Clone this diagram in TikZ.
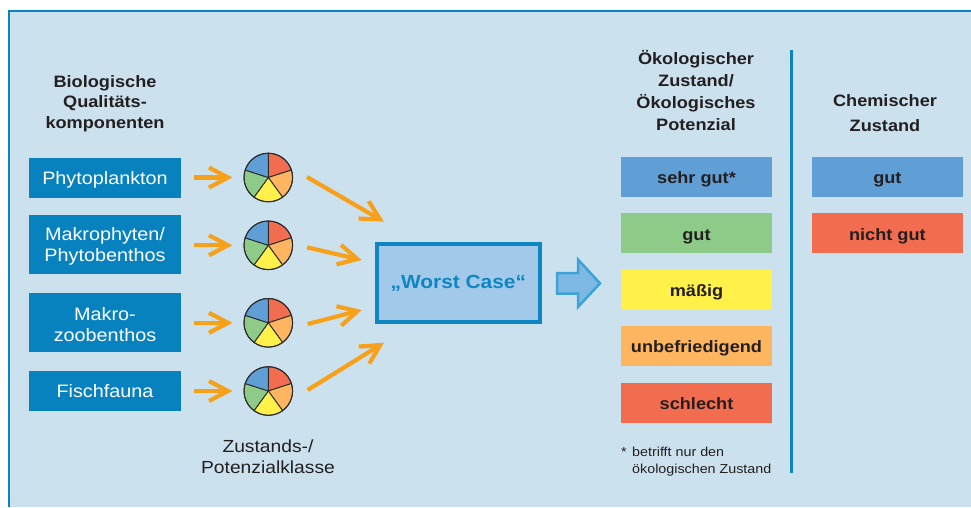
\documentclass[tikz,border=0pt]{standalone}
\usepackage{fontspec}
\setmainfont[FakeStretch=1.1]{Liberation Sans}
\usetikzlibrary{arrows.meta}
\definecolor{bg}{HTML}{CCE1EE}
\definecolor{frame}{HTML}{0A84C0}
\definecolor{boxblue}{HTML}{0882BF}
\definecolor{orng}{HTML}{F7A11A}
\definecolor{pred}{HTML}{F26D50}
\definecolor{porange}{HTML}{FDB560}
\definecolor{pyellow}{HTML}{FFF14A}
\definecolor{pgreen}{HTML}{8FCB88}
\definecolor{pblue}{HTML}{5F9FD6}
\definecolor{pline}{HTML}{2B2B2B}
\definecolor{wcfill}{HTML}{A3C9EA}
\definecolor{wcborder}{HTML}{0D86C1}
\definecolor{bafill}{HTML}{7DB9E3}
\definecolor{baborder}{HTML}{3DA3D6}
\definecolor{txt}{HTML}{231F20}
\newcommand\mypie[3]{%
  \begin{scope}[shift={(#2,#3)},yscale=-1,draw=pline,line width=0.9pt]
    \filldraw[fill=pred] (0,0) -- (90:24.3) arc[start angle=90,end angle=18,radius=24.3] -- cycle;
    \filldraw[fill=porange] (0,0) -- (18:24.3) arc[start angle=18,end angle=-54,radius=24.3] -- cycle;
    \filldraw[fill=pyellow] (0,0) -- (-54:24.3) arc[start angle=-54,end angle=-126,radius=24.3] -- cycle;
    \filldraw[fill=pgreen] (0,0) -- (-126:24.3) arc[start angle=-126,end angle=-198,radius=24.3] -- cycle;
    \filldraw[fill=pblue] (0,0) -- (162:24.3) arc[start angle=162,end angle=90,radius=24.3] -- cycle;
  \end{scope}
  \node[circle,draw=pline,line width=1pt,minimum size=48.6,inner sep=0] (#1) at (#2,#3) {};
}
\begin{document}
\begin{tikzpicture}[x=1pt,y=-1pt,
  bio/.style={fill=boxblue,text=white,minimum width=152,inner sep=0,align=center,
    font=\fontsize{18}{21}\selectfont},
  eco/.style={minimum width=151,minimum height=40,inner sep=0,text=txt,text height=16,text depth=2,
    font=\bfseries\fontsize{16.5}{20}\selectfont},
  head/.style={align=center,inner sep=0,text=txt,font=\bfseries\fontsize{16.5}{20.5}\selectfont},
  oarr/.style={draw=orng,line width=4.2pt,-{Straight Barb[length=19pt,width=20pt]}}
]
\useasboundingbox (0,0) rectangle (971,507);
\fill[bg] (9,11) rectangle (971,507);
\draw[frame,line width=2.2pt] (9.3,507) -- (9.3,11) -- (971,11);

% headers
\node[head] (hbio) at (105,103.5) {Biologische\\Qualitäts-\\komponenten};
\node[head,font=\bfseries\fontsize{16.5}{22}\selectfont] (heco) at (696,91) {Ökologischer\\Zustand/\\Ökologisches\\Potenzial};
\node[head,font=\bfseries\fontsize{16.5}{24.3}\selectfont] (hchem) at (885,113) {Chemischer\\Zustand};

% left boxes
\node[bio,minimum height=40,text height=16,text depth=2] (b1) at (105,177.5) {Phytoplankton};
\node[bio,minimum height=59] (b2) at (105,244.5) {\rule{0pt}{17pt}Makrophyten/\\Phytobenthos};
\node[bio,minimum height=59] (b3) at (105,322.5) {\rule{0pt}{17pt}Makro-\\zoobenthos};
\node[bio,minimum height=40,text height=16,text depth=2] (b4) at (105,390.5) {Fischfauna};

% pies
\mypie{p1}{268.3}{177.5}
\mypie{p2}{268.3}{245.3}
\mypie{p3}{268.3}{322.8}
\mypie{p4}{268.3}{391}

\node[align=center,inner sep=0,text=txt,font=\fontsize{17.5}{20.5}\selectfont] (cls) at (268,456.5) {Zustands-/\\Potenzialklasse};

% arrows boxes -> pies
\foreach \i in {1,2,3,4}
  \draw[oarr,shorten <=13pt,shorten >=11pt] (b\i.east |- p\i) -- (p\i.west);

% worst case
\node[draw=wcborder,line width=4pt,fill=wcfill,minimum width=162.7,minimum height=78,inner sep=0,
  text=wcborder,font=\bfseries\fontsize{19}{22}\selectfont] (wc) at (458.3,283.3) {„Worst Case“};

\coordinate (s1) at (307,177);
\coordinate (t1) at (384,221.7);
\coordinate (s2) at (307,247.3);
\coordinate (t2) at (361.7,260);
\coordinate (s3) at (307.7,324);
\coordinate (t3) at (361.7,310);
\coordinate (s4) at (307.7,390);
\coordinate (t4) at (384,342.7);
\foreach \i in {1,2,3,4} \draw[oarr] (s\i) -- (t\i);

% block arrow
\draw[fill=bafill,draw=baborder,line width=2.5pt,line join=miter]
  (557,273) -- (578,273) -- (578,259.5) -- (600,283.3) -- (578,307) -- (578,293.7) -- (557,293.7) -- cycle;

% ecological classes
\node[eco,fill=pblue] (e1) at (696.5,176.7) {sehr gut*};
\node[eco,fill=pgreen] (e2) at (696.5,233) {gut};
\node[eco,fill=pyellow] (e3) at (696.5,289.7) {mäßig};
\node[eco,fill=porange] (e4) at (696.5,345.8) {unbefriedigend};
\node[eco,fill=pred] (e5) at (696.5,402.8) {schlecht};

\node[anchor=west,align=left,inner sep=0,text=txt,font=\fontsize{13}{16.5}\selectfont] (note) at (621,461.8)
  {\makebox[11pt][l]{\raisebox{0.5pt}{\fontsize{13}{13}\selectfont *}}betrifft nur den\\\hspace*{11pt}ökologischen Zustand};

\draw[frame,line width=3.5pt] (791.5,50) -- (791.5,473);

% chemical
\node[eco,fill=pblue] (c1) at (887.4,176.7) {gut};
\node[eco,fill=pred] (c2) at (887.4,233) {nicht gut};
\end{tikzpicture}
\end{document}
